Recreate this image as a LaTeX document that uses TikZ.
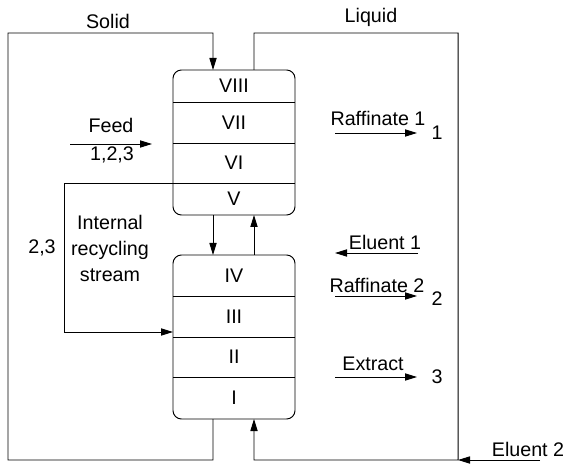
\documentclass[tikz,border=0pt]{standalone}
\usepackage{fontspec}
\setmainfont{Liberation Sans}
\usepackage{tikz}
\usetikzlibrary{positioning, arrows.meta}

\begin{document}
\begin{tikzpicture}[
        zone/.style={minimum width=3.05cm, inner sep=0pt, outer sep=0pt},
        pipe/.style={line width=0.7pt},
        flow/.style={pipe, -{Triangle[length=3mm, width=1.8mm]}},
        font=\fontsize{14}{18.5}\selectfont
    ]
        \useasboundingbox (0,0) rectangle (14.15,11.575);

        % upper column
        \node[zone, minimum height=0.8cm] (zone8) at (5.85,9.425) {VIII};
        \node[zone, minimum height=1.025cm, below=0pt of zone8] (zone7) {VII};
        \node[zone, minimum height=1cm, below=0pt of zone7] (zone6) {VI};
        \node[zone, minimum height=0.8cm, below=0pt of zone6] (zone5) {V};

        % lower column
        \node[zone, minimum height=1.025cm] (zone4) at (5.85,4.6875) {IV};
        \node[zone, minimum height=1.025cm, below=0pt of zone4] (zone3) {III};
        \node[zone, minimum height=1cm, below=0pt of zone3] (zone2) {II};
        \node[zone, minimum height=1.05cm, below=0pt of zone2] (zone1) {I};

        \draw[pipe, rounded corners=6pt] (zone8.north west) rectangle (zone5.south east);
        \draw[pipe, rounded corners=6pt] (zone4.north west) rectangle (zone1.south east);
        \foreach \a in {8,7,6,4,3,2}
            \draw[pipe] (zone\a.south west) -- (zone\a.south east);

        % solid and liquid loops
        \draw[flow] ([xshift=-0.525cm]zone1.south) |- (0.2,0.075) |- (5.325,10.75) -- ([xshift=-0.525cm]zone8.north);
        \draw[flow] ([xshift=0.5cm]zone8.north) |- (11.45,10.75) |- (6.35,0.075) -- ([xshift=0.5cm]zone1.south);
        \node (solid) at (2.7,11.05) {Solid};
        \node (liquid) at (9.275,11.15) {Liquid};

        \draw[flow] ([xshift=-0.525cm]zone5.south) -- ([xshift=-0.525cm]zone4.north);
        \draw[flow] ([xshift=0.5cm]zone4.north) -- ([xshift=0.5cm]zone5.south);

        % eluent 2
        \coordinate (el2in) at (13.5,0.075);
        \coordinate (el2out) at (11.45,0.075);
        \draw[flow] (el2in) -- (el2out);
        \node (el2) at (13.2,0.33) {Eluent 2};

        % feed
        \coordinate (feedin) at (1.75,7.975);
        \coordinate (feedout) at (3.8,7.975);
        \draw[flow] (feedin) -- (feedout);
        \node (feed) at (2.775,8.45) {Feed};
        \node (feedmix) at (2.8,7.7) {1,2,3};

        % internal recycling
        \coordinate (recyc) at (1.6,3.275);
        \draw[flow] (zone6.south west) -| (recyc) -- (recyc -| zone3.west);
        \node[align=center] (recyctxt) at (2.75,5.375) {Internal\\recycling\\stream};
        \node (recycmix) at (1.05,5.375) {2,3};

        % outlets and inlets
        \coordinate (raf1a) at (8.375,8.25);
        \coordinate (raf1b) at (10.425,8.25);
        \draw[flow] (raf1a) -- (raf1b);
        \node (raf1) at (9.45,8.625) {Raffinate 1};
        \node (raf1mix) at (10.925,8.25) {1};

        \coordinate (el1a) at (10.45,5.25);
        \coordinate (el1b) at (8.375,5.25);
        \draw[flow] (el1a) -- (el1b);
        \node (el1) at (9.625,5.52) {Eluent 1};

        \coordinate (raf2a) at (8.375,4.175);
        \coordinate (raf2b) at (10.425,4.175);
        \draw[flow] (raf2a) -- (raf2b);
        \node (raf2) at (9.425,4.45) {Raffinate 2};
        \node (raf2mix) at (10.925,4.1) {2};

        \coordinate (extra) at (8.375,2.15);
        \coordinate (extrb) at (10.425,2.15);
        \draw[flow] (extra) -- (extrb);
        \node (extr) at (9.325,2.48) {Extract};
        \node (extrmix) at (10.925,2.15) {3};
    \end{tikzpicture}
\end{document}
